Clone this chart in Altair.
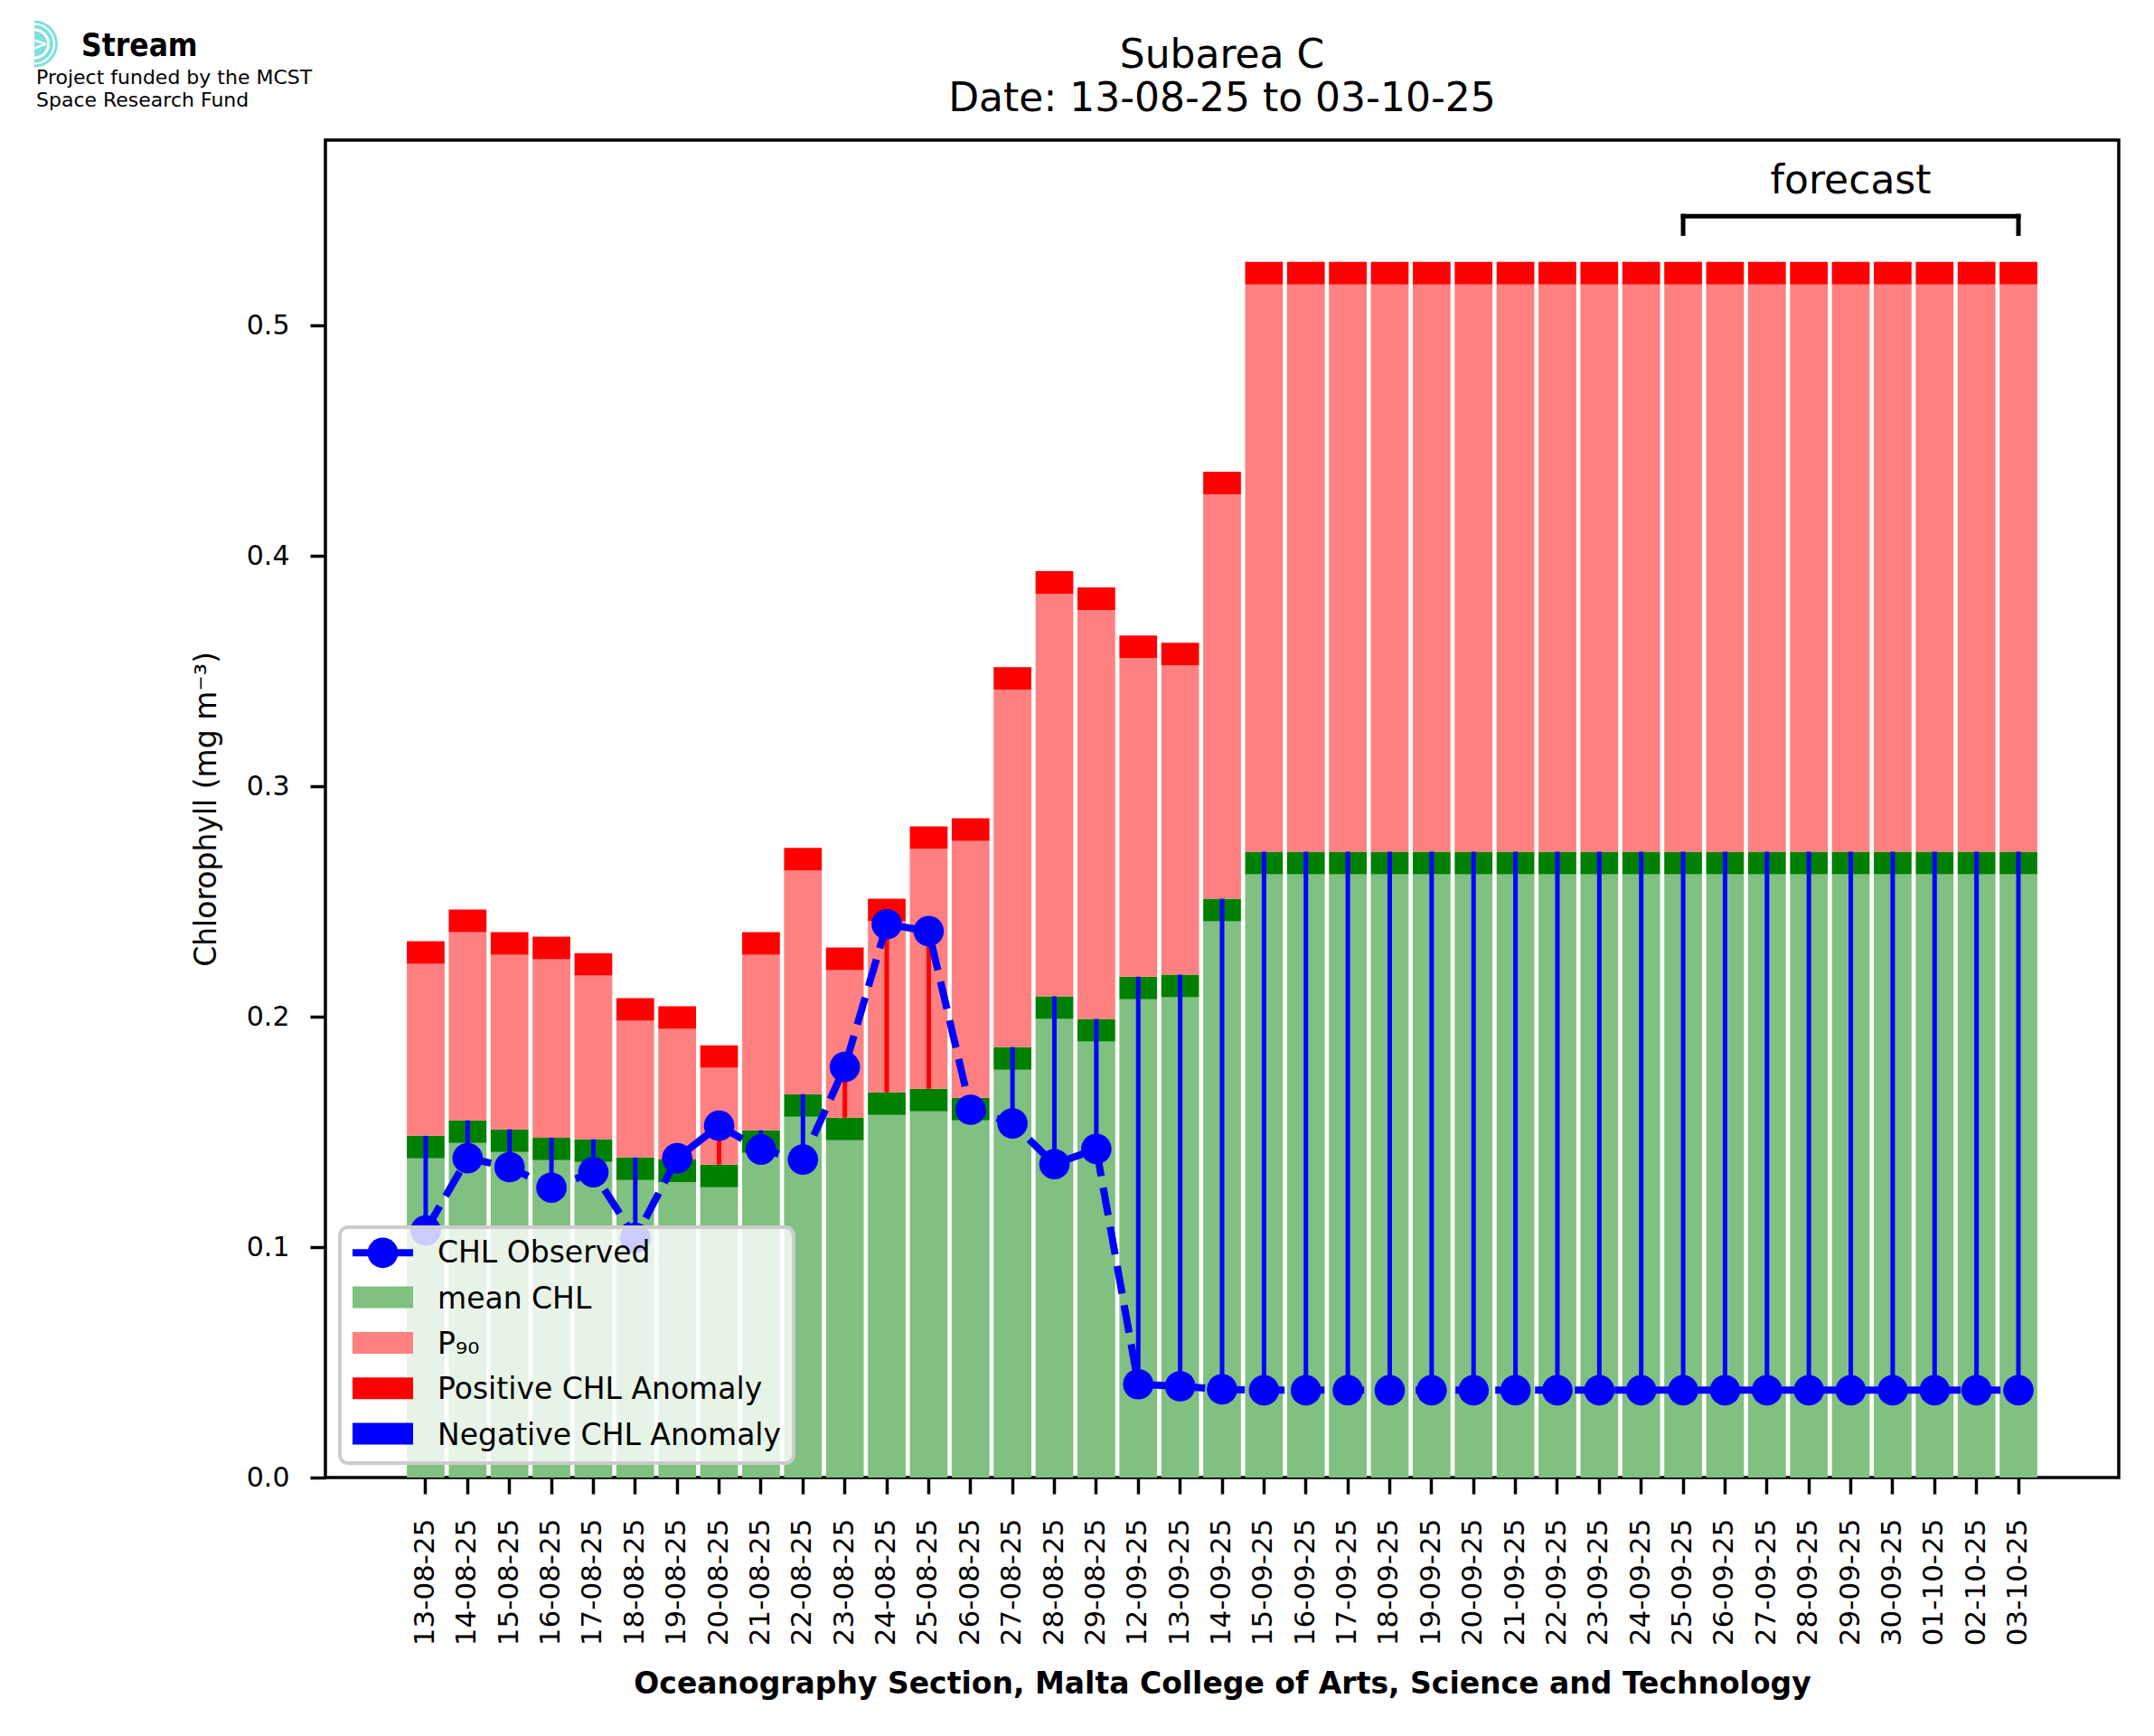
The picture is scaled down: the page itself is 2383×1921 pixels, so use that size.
import math
import numpy as np
import pandas as pd
import altair as alt

# ---------------- data ----------------
dates = ["13-08-25", "14-08-25", "15-08-25", "16-08-25", "17-08-25", "18-08-25",
         "19-08-25", "20-08-25", "21-08-25", "22-08-25", "23-08-25", "24-08-25",
         "25-08-25", "26-08-25", "27-08-25", "28-08-25", "29-08-25", "12-09-25",
         "13-09-25", "14-09-25", "15-09-25", "16-09-25", "17-09-25", "18-09-25",
         "19-09-25", "20-09-25", "21-09-25", "22-09-25", "23-09-25", "24-09-25",
         "25-09-25", "26-09-25", "27-09-25", "28-09-25", "29-09-25", "30-09-25",
         "01-10-25", "02-10-25", "03-10-25"]

# top of the mean CHL bar (dark green band top)
mean_chl = [0.1483, 0.1550, 0.1511, 0.1475, 0.1468, 0.1389, 0.1380, 0.1358,
            0.1507, 0.1664, 0.1562, 0.1672, 0.1687, 0.1648, 0.1868, 0.2088,
            0.1990, 0.2174, 0.2182, 0.2512] + [0.2716] * 19

# top of the P90 bar (red band top)
p90 = [0.2327, 0.2465, 0.2367, 0.2347, 0.2276, 0.2080, 0.2045, 0.1876,
       0.2367, 0.2732, 0.2300, 0.2512, 0.2826, 0.2861, 0.3517, 0.3933,
       0.3863, 0.3654, 0.3623, 0.4365] + [0.5276] * 19

observed = [0.1072, 0.1386, 0.1347, 0.1258, 0.1325, 0.1040, 0.1386, 0.1527,
            0.1423, 0.1380, 0.1782, 0.2401, 0.2371, 0.1596, 0.1537, 0.1360,
            0.1426, 0.0405, 0.0396, 0.0383] + [0.0379] * 19

band = 0.0098          # thickness of the dark green / red caps
forecast_start, forecast_end, forecast_mid = "25-09-25", "03-10-25", "29-09-25"

legend_labels = ["CHL Observed", "mean CHL", "P\u2089\u2080",
                 "Positive CHL Anomaly", "Negative CHL Anomaly"]
legend_colors = ["#0000ff", "#80c080", "#ff8080", "#ff0000", "#0000ff"]

title_lines = ["Subarea C", "Date: 13-08-25 to 03-10-25"]

# ---------------- table ----------------
df = pd.DataFrame({"date": dates, "mean": mean_chl, "p90": p90, "obs": observed})
df["idx"] = np.arange(len(df))
df["lg"] = df["mean"] - band
df["pk"] = df["p90"] - band
df["anom"] = np.where(df["obs"] > df["mean"], "pos", "neg")

W, H = 1984, 1480
FONT = "DejaVu Sans"

xscale = alt.Scale(type="band", domain=dates, paddingInner=0.1, paddingOuter=0,
                   range=[90.1, 1893.9])
xaxis = alt.Axis(title="Oceanography Section, Malta College of Arts, Science and Technology",
                 titleFontWeight="bold", titleFontSize=33, titleY=238, titleX=W / 2,
                 titleBaseline="alphabetic", titleColor="black",
                 labelAngle=270, labelFontSize=31, labelPadding=27, labelColor="black",
                 tickSize=18, tickWidth=3.5, tickColor="black", domain=False, grid=False)
yscale = alt.Scale(domain=[0, 0.5804], nice=False, zero=True)
yaxis = alt.Axis(title="Chlorophyll (mg m\u207b\u00b3)", titleFontSize=33,
                 titleFontWeight="normal", titleX=-132, titleY=H / 2,
                 titleBaseline="middle", titleAlign="center", titleAngle=270,
                 titleColor="black",
                 values=[0, 0.1, 0.2, 0.3, 0.4, 0.5], format=".1f",
                 labelFontSize=30, labelPadding=23, labelColor="black",
                 tickSize=17, tickWidth=3.5, tickColor="black", domain=False, grid=False)

def xq(f):
    return alt.X(f + ":N", scale=xscale, axis=xaxis)

def yq(f):
    return alt.Y(f + ":Q", scale=yscale, axis=yaxis)

X = xq("date")
base = alt.Chart(df)

light_green = base.mark_bar(color="#80c080").encode(x=X, y=yq("lg"))
dark_green = base.mark_bar(color="#008000").encode(x=X, y=yq("lg"), y2="mean:Q")
pink = base.mark_bar(color="#ff8080").encode(x=X, y=yq("mean"), y2="pk:Q")
red = base.mark_bar(color="#ff0000").encode(x=X, y=yq("pk"), y2="p90:Q")

anom_rules = base.mark_rule(strokeWidth=5).encode(
    x=X, y=yq("obs"), y2="mean:Q",
    color=alt.Color("anom:N", scale=alt.Scale(domain=["pos", "neg"], range=["#ff0000", "#0000ff"]),
                    legend=None))

obs_line = base.mark_line(color="#0000ff", strokeWidth=8, strokeDash=[31, 13]).encode(
    x=X, y=yq("obs"), order=alt.Order("idx:Q"))
obs_pts = base.mark_circle(color="#0000ff", size=1134, opacity=1).encode(x=X, y=yq("obs"))

# forecast bracket
fc = pd.DataFrame({"x0": [forecast_start], "x1": [forecast_end], "mid": [forecast_mid],
                   "ylo": [0.5398], "yhi": [0.5474], "ytxt": [0.5572], "label": ["forecast"]})
fc_h = alt.Chart(fc).mark_rule(strokeWidth=5, color="black", strokeCap="square").encode(
    x=xq("x0"), x2="x1:N", y=yq("yhi"))
fc_l = alt.Chart(fc).mark_rule(strokeWidth=5, color="black", strokeCap="square").encode(
    x=xq("x0"), y=yq("ylo"), y2="yhi:Q")
fc_r = alt.Chart(fc).mark_rule(strokeWidth=5, color="black", strokeCap="square").encode(
    x=xq("x1"), y=yq("ylo"), y2="yhi:Q")
fc_t = alt.Chart(fc).mark_text(fontSize=44, font=FONT, baseline="alphabetic", align="center",
                               color="black").encode(
    x=xq("mid"), y=yq("ytxt"), text="label:N")

one = pd.DataFrame({"k": [0]})

# titles
titles = []
for line, yy in zip(title_lines, [-80, -32]):
    titles.append(alt.Chart(pd.DataFrame({"t": [line]})).mark_text(
        fontSize=44, font=FONT, align="center", baseline="alphabetic", color="black").encode(
        x=alt.value(W / 2), y=alt.value(yy), text="t:N"))

# logo: cyan half disc with two arcs
logo = []
cx, cy = -322, -106.5
for r_in, r_out, col in [(0, 26, "#80dfdb"), (14, 17, "white"), (21, 23, "white")]:
    logo.append(alt.Chart(one).mark_arc(theta=0, theta2=math.pi, radius=r_out, radius2=r_in,
                                        color=col).encode(x=alt.value(cx), y=alt.value(cy)))
logo.append(alt.Chart(pd.DataFrame({"t": [">"]})).mark_text(
    fontSize=20, fontWeight="bold", font=FONT, align="left", baseline="middle",
    color="white").encode(x=alt.value(cx - 2), y=alt.value(cy), text="t:N"))
logo_txt = [("Stream", -270, -93, 35, "bold", "DejaVu Sans Condensed"),
            ("Project funded by the MCST", -320, -62, 22, "normal", FONT),
            ("Space Research Fund", -320, -37, 22, "normal", FONT)]
for t, xx, yy, fs, fw, fnt in logo_txt:
    logo.append(alt.Chart(pd.DataFrame({"t": [t]})).mark_text(
        fontSize=fs, fontWeight=fw, font=fnt, align="left", baseline="alphabetic",
        color="black").encode(x=alt.value(xx), y=alt.value(yy), text="t:N"))

# legend (drawn manually)
leg = [alt.Chart(one).mark_rect(fill="white", fillOpacity=0.8, stroke="#cccccc",
                                strokeWidth=4, cornerRadius=9).encode(
    x=alt.value(16), x2=alt.value(518), y=alt.value(1203), y2=alt.value(1464))]
for i, (lbl, col) in enumerate(zip(legend_labels, legend_colors)):
    yb = 1242.3 + 50.3 * i
    if i == 0:
        leg.append(alt.Chart(one).mark_rule(color=col, strokeWidth=8).encode(
            x=alt.value(30), x2=alt.value(97), y=alt.value(yb - 11)))
        leg.append(alt.Chart(one).mark_circle(color=col, size=1134, opacity=1).encode(
            x=alt.value(63.5), y=alt.value(yb - 11)))
    else:
        leg.append(alt.Chart(one).mark_rect(color=col).encode(
            x=alt.value(30), x2=alt.value(97), y=alt.value(yb - 24), y2=alt.value(yb)))
    leg.append(alt.Chart(pd.DataFrame({"t": [lbl]})).mark_text(
        fontSize=33, font=FONT, align="left", baseline="alphabetic", color="black").encode(
        x=alt.value(124), y=alt.value(yb), text="t:N"))

chart = alt.layer(
    light_green, dark_green, pink, red, anom_rules, obs_line, obs_pts,
    fc_h, fc_l, fc_r, fc_t, *titles, *logo, *leg
).properties(
    width=W, height=H,
    padding={"left": 352, "top": 147, "right": 31, "bottom": 278},
    autosize=alt.AutoSizeParams(type="none"),
    background="white",
).configure(
    font=FONT
).configure_view(
    stroke="black", strokeWidth=3.5
)

chart.save("out.html", embed_options={"renderer": "svg", "actions": False})
